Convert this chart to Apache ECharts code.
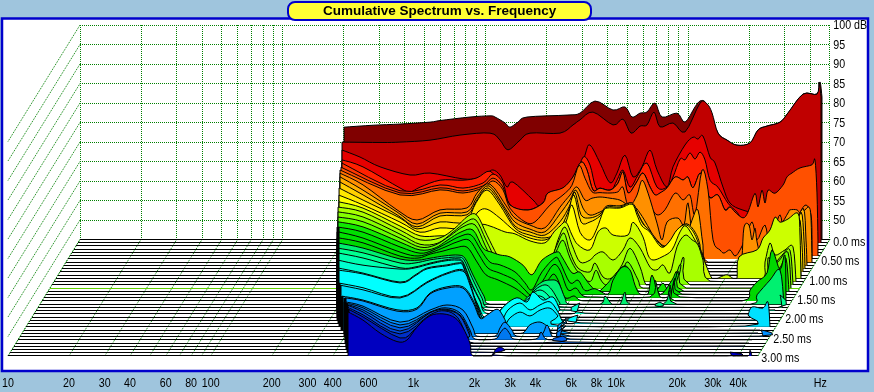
<!DOCTYPE html>
<html><head><meta charset="utf-8">
<style>html,body{margin:0;padding:0;background:#9FC5DD}#c{width:874px;height:392px}</style>
<script src="https://cdn.jsdelivr.net/npm/echarts@6/dist/echarts.min.js"></script>
</head><body><div id="c"></div>
<script>
// Frequency bins (Hz): each slice below is [bin, dB, bin, dB, ...]
const BIN_HZ=[200.7,212.4,224.8,238,251.9,266.6,282.2,298.7,316.1,334.6,354.1,374.8,396.7,419.9,444.4,470.4,497.9,527,557.8,590.4,624.9,661.2,699.9,740.8,784,829.9,878.4,929.7,984,1041.6,1102.4,1166.9,1235,1307.2,1383.6,1464.5,1550,1640.6,1736.5,1838,1945.4,2059,2179,2306,2441,2584,2735,2895,3064,3243,3433,3634,3846,4071,4309,4561,4827,5109,5408,5724,6058,6414,6789,7186,7606,8050,8520,9018,9545,10103,10693,11318,11979,12679,13420,14204,15034,15912,16842,17826,18868,19971,21138,22373,23680,25064,26528,28078,29719,31455,33293,35238,37297,39476,41783,44224,46808,49543];
const SLICE_MS=[0,0.083,0.167,0.25,0.333,0.417,0.5,0.583,0.667,0.75,0.833,0.917,1,1.083,1.167,1.25,1.333,1.417,1.5,1.583,1.667,1.75,1.833,1.917,2,2.083,2.167,2.25,2.333,2.417,2.5,2.583,2.667,2.75,2.833,2.917,3];
const SLICE_COLORS=['#800000','#C00000','#E60000','#FF2000','#FF3800','#FF5000','#FF7000','#FF9000','#FFB000','#FFD000','#FFE800','#FFFF00','#CCFF00','#A8FF00','#84FF00','#60FF00','#10E800','#00E000','#00E000','#00D800','#00F070','#00FF90','#00FFB0','#00FFD0','#00FFE8','#00FFFF','#00F8FF','#00E0FF','#00C0FF','#00A0FF','#0090FF','#0078F0','#0060E8','#0048D8','#0030C8','#0018C0','#0000C0'];
const S00=[0,73.8,5.8,74.3,11.2,74.6,17.2,75.1,19.2,75.5,25.2,76.4,29.2,76.7,30.2,76.4,32.2,74.9,33.2,73.8,34.8,75.1,36.6,76.4,44.6,76.9,47.2,77.4,50.2,80.5,53.8,78.2,56.2,79,57.6,76.4,59.2,77.4,60.6,77.7,62.2,80,63.6,76.4,66.6,77.4,68.2,75.1,70.2,79,71.2,80.5,72.2,80.3,73.2,77.7,74.8,72.3,76.6,70.5,78.6,69.2,81.2,69.7,82.8,73.1,84.6,74.1,87.2,75.1,88.8,77.4,91.8,82.3,94.6,82.3,95.2,85.4,95.6,81.5];
const S01=[0,70.8,8,70.7,11.6,70.8,17.6,71.3,23.6,72.6,29.6,73.1,31.6,71.3,33.2,68.8,35.6,71.3,37.6,73.1,43.6,73.1,46.2,75.2,47.6,76.5,50.2,78.5,54.2,75.2,56.2,76.7,57.8,73.1,59.6,74.9,61,75.2,62.4,78.5,63.6,74.7,66.2,75.7,68.6,73.4,71.6,80.8,73,80.6,74,78.3,75.2,73.1,77,71.3,79,70,81.6,70.6,83.2,73.9,85,74.9,87.6,75.9,89.2,78.3,92.2,83.1,95,83.1,95.4,86.2,95.8,82.4];
const S02=[0.4,69.6,4,67.8,8,65.3,14,63.2,18,63.7,24.6,62.2,27.4,62.4,29.4,63.7,30.6,64.5,32,63.2,33.4,60.1,34.6,61.4,38.6,56.8,40,55,44,52.9,47,59.3,49,68.3,50,70.9,52,66.3,54,61.2,55.4,63.7,57,68.3,58.6,62.7,60.4,65.3,62,69.6,63.4,64.5,65.4,60.1,66.6,65.3,69,70.9,70.6,72.9,71.6,72.4,72.6,73.2,74,67.8,75,66.3,76.6,60.1,78,56,80.6,54.2,85,53,92,53,94.8,56.8];
const S03=[0.8,67.9,5,66.1,12.4,60.7,14.4,59.7,16.4,60.9,20.4,62.7,25,62.7,27.8,63.3,30.4,65,32.4,61.5,34.4,56.3,37.4,53.8,40.4,53.8,44.4,56.3,47.4,62.7,49,68.6,50.4,66.6,51.8,60.2,54.4,59.7,55.8,62.7,57,65.3,58.4,60.9,60,64,61.8,67.1,63.8,60.9,65.8,60.9,67,63.5,68.4,68.1,69.4,67.9,70.4,69.7,71.4,68.1,72.4,69.9,73.4,67.9,74.4,62.7,76,60.9,78,56.8,79.8,54.5,81.4,52,84.4,53.8,88.4,57.6,94.4,58.9];
const S04=[1.2,67.9,12.8,60.8,20.8,62.3,25.4,61.5,29.4,62.8,31.4,65.1,33.4,62.8,34.8,57.2,38.4,55.9,41.4,57.7,42.4,60.2,45.4,61.5,47.4,64.3,49,68.2,50.2,66.1,51.4,61,52.8,61.5,54.8,61,56.4,62.8,57.4,65.6,58.4,60.2,60,62.8,61.4,65.4,62.8,61.8,63.8,59.7,64.8,60.2,66.2,61.5,67.8,64.3,69.4,63.6,70.4,64.3,71.4,61.5,72.8,65.4,73.8,62.3,74.8,59,76.4,59.7,77.8,55.9,78.8,56.6,80.8,53.3,82.8,53,84.2,57,85.4,56,86.2,58,88.2,57,90.2,62,91.2,63,91.8,62,92.4,63,95.4,66,95.6,67,96,60];
const S05=[1.4,67.7,13.2,61.1,21.2,62.4,25.8,61.6,29.8,62.9,31.8,64.9,33.8,62.6,35.2,58,38.8,56.7,41.8,58.5,42.8,61.1,45.8,62.4,47.8,65.2,49.4,69,50.6,67,51.8,61.8,53.2,62.3,55.2,61.8,56.8,63.6,57.8,66.5,58.8,61.1,60.4,63.6,61.8,66.2,63.2,62.6,64.2,60.6,65.2,61.1,66.6,62.4,68.2,65.2,69.8,64.4,70.8,65.2,71.8,62.4,73.2,66.2,74.2,63.1,75.2,59.8,76.8,60.6,78.2,56.7,79.2,57.5,80.2,56.2,81.8,54.7,82.8,56.2,84.2,61,84.8,57.5,85.6,61.8,86.2,58.5,86.8,61.8,88.2,61,89.8,63.1,90.6,65.2,91.6,66.2,93.2,67.5,95.6,68.3,96.2,69.5,96.6,61.1,96.8,49];
const S06=[1.6,67.8,13.6,61.4,21.6,62.7,26.2,61.9,30.2,63.2,32.2,65,34.2,62.7,35.6,58,38.6,54.5,40.6,54.5,43.6,58.8,46.2,61.4,48,63.9,49.4,69,50.6,65.7,52,62.2,53.6,62,55.6,61.9,57.2,62.2,58.2,63.4,59.2,58.8,61,60.1,62.2,62.7,63.6,58.8,65,56.3,66.6,57.6,68.6,61.9,70.2,60.1,71.6,61.4,72.6,56.3,74,67.8,75.2,62.7,76.2,49.9,77.6,47.3,78.4,46.5,79.6,47.3,80.8,45.8,82.6,49.9,84,54.5,85,49.9,86.6,53.7,87.6,47.8,88.6,52.4,89.6,56.3,90.6,51.9,92.6,54.5,94.6,58.8,95.8,56.3,96,50];
const S07=[2,67.8,6.6,64.8,13.4,58.4,17.4,55.8,22,58.4,27.4,58.9,29.4,62.7,32,65,35.4,59.1,37,56.3,40,54.5,43,53.8,46,59.1,48,62.2,49.4,64.3,51,60.9,52.4,61.4,54,61.7,56,61.4,58,60.9,60,59.6,61.4,62.2,62.4,66,63.6,62.7,65.4,55,66.4,50.7,67.4,55.3,69.6,56.3,70.8,54.5,71.6,60.2,72.6,50.7,73.4,58.4,74.4,49.4,75.6,45,82,45,82.4,46.3,82.8,54,83.8,54.5,84.4,50.7,85,53.7,85.4,50.2,86.4,46,88,49,88.6,55.3,90,54.5,91.6,57.6,92,58.4,93.4,58.4,94,57.6,95,58.4,95.8,59.1,96.2,56.3,96.4,45];
const S08=[2.4,67.7,7,64.3,13.8,58.7,17.8,55.6,22.4,58.4,27.8,58.7,29.8,62.5,32.2,65.4,35.4,59.7,37.4,56.1,40.4,54.3,43.4,53.6,46.4,58.2,48.4,61.8,49.6,64.3,51,59.7,52.4,57.9,54.4,58.7,56.4,60,58.4,60,60.8,60.5,62.4,58.4,64.4,54.1,66.4,49.5,68.4,50.2,70,52.8,71.4,51.5,72.8,56.6,74,59.2,75,50.2,76,45,86.8,45,90,50,92.4,52,95,59.7,95.6,51.5,95.8,45];
const S09=[2.8,67.2,7.4,63.9,14.2,58.8,18.2,55.7,22.8,58.5,28.2,58.8,30.2,62.6,32.4,65.7,35.4,60.8,37.8,55.9,40.8,54.4,43.8,53.6,46.8,57,48.8,61.3,49.8,64.6,51,58.8,52.8,58,54.8,59,56.2,61.1,58.8,61.1,61.2,61.8,62.4,59,63.8,55.9,65.8,52.9,67.6,50.8,69.2,51.8,70.8,54.9,72.2,56.4,73.4,54.4,74.4,52.3,75.4,46.7,76,45,88.8,45,91.6,50.3,93.2,52,95,59.5,95.6,52.3,95.8,45];
const S10=[3,66.5,7.8,63.4,15.2,58.8,18.6,56,23.2,57.8,28.2,57.8,30.4,62.7,32.6,66,35.2,62.1,38.2,56.2,41.2,54.4,44.2,53.7,46.8,55.2,48.8,60.3,50,64.7,51.4,57.8,53.2,57.8,55.2,59.3,56.6,61.6,59.2,61.6,61.6,62.7,62.8,59.8,63.8,57.3,65.2,55.5,67.6,51.6,69.2,52.9,70.8,56,72.6,57.3,74.2,55.2,75.2,51.9,76.4,45,90.8,45,93.2,52,95,58.8,95.6,51.9,95.8,45];
const S11=[3.4,65.5,8.2,63,15.6,58.6,19.6,56,23.6,57.1,28.6,57.1,31.2,61.2,33,61.9,35.6,59.6,38.6,56.3,41.6,54.5,44.6,54,46.8,55.8,48.8,58.6,50,63,51.6,56,53.6,54,55,57,56.2,61.2,57,62.2,59.6,62.2,62,63.2,63,60.4,64,57.6,65.6,56,67.8,52.2,69.4,53.5,71,56.6,72.8,57.9,74.4,55.8,75.6,52,76.6,48.4,77.2,45,92.6,45,94,52,95,58.6,95.6,51.4,95.8,45];
const S12=[3.8,64.6,8.6,63,16,58.4,20,55.9,24,55.9,29,56.1,32,58.7,34,58.4,37,56.9,39,56.4,42,54.6,45,54.1,46.8,56.9,48,58.4,49.2,59.4,50.4,56.1,51.6,53.6,54,52.3,55.6,56.9,57.2,57.9,58.6,56.1,61.6,56.1,62.6,59.4,64.6,55.6,65.6,51,66.6,49.7,68.4,50.5,70.4,52.3,72,56.9,73.2,58.4,75,54.8,76,52.3,77.2,48.4,78.4,45,79.4,45,80,45.3,81.4,45.9,82.6,45,83.4,45,83.8,50.5,87.4,52.3,88.6,55.3,90,57.4,91,60.7,92,59.4,93.6,60.2,95.6,61.7,96,56.1,96.2,45];
const S13=[4,64.1,9,62.8,16.4,58.2,20.4,55.7,24.4,56.2,27.4,58.7,30,61.8,31.8,62,33.8,56.9,35.8,51.8,37.4,48.5,40.4,46.7,44.4,46.7,46.8,51,48,55.7,49.4,59,50.8,54.4,52.4,50,54.4,50.5,55.4,51.8,57,52.6,59,50.5,61,53.1,62.4,56.2,64.4,53.6,66.4,48.7,67.8,48,69,49.3,70.4,47.2,71.8,53.9,73.4,56.9,74.8,55.7,76,54.4,77,50.5,78.4,45.1,88.4,45,89.4,50,90.4,54.9,91.4,51.8,93.4,53.1,95,53.9,95.6,45.1];
const S14=[4.4,63.7,9.4,62.4,16.8,58,20.8,55.4,24.4,55.7,27.4,58.5,30,61.1,32,61.6,34,56.5,36,51.4,37.8,48.3,40.8,46.2,44.8,46.2,46.8,50.8,48.2,55.2,49.6,58.3,50.8,53.4,52.4,49.3,54.8,48.3,55.8,50.6,57.4,47,59.2,46.8,61.2,50.1,62.8,54.4,64.8,49.6,65.8,45.5,66.8,45,71.2,45.2,72.8,49.8,73.6,51.9,74.8,45,88.8,45,90.4,51.9,91.4,50.1,93.2,52.6,94.8,53.9,95.4,45.2];
const S15=[4.8,63.2,9.8,62,17.2,57.8,21.2,55.5,24.2,56,27.2,58.4,29.8,60.7,32.2,61.2,34.2,56,36.2,50.9,38.2,47.6,41.2,45.8,45.2,45.8,47.2,50.9,48.4,54.2,49.8,57.3,51.2,52.7,52.8,49.1,55.2,46.6,56.4,49.6,57.6,46.6,59.6,45.3,61.6,49.1,62.8,51.7,64.8,47.1,65.8,45,71.4,45,72.6,49.1,73.4,50.9,74.4,45,89.8,45,91.2,50.9,92.8,51.7,94.8,54.2,95.4,45];
const S16=[5.2,62.8,10.2,61.5,17.6,57.6,21.6,55.6,24.6,56.1,27.2,58.2,29.8,60.2,32.2,60.7,34.2,56.1,36,55,37.6,54.3,39.6,53.8,42.2,51.7,44,49.2,46,53,49,55.1,50,53.8,52,49.7,53.6,49.9,55.6,46.6,57.2,45,58.8,46.6,60.2,48.7,62,51.2,63.2,51,64.6,46.1,65.6,45,68.6,45,70.2,47.1,71.4,45,72.6,48.4,73.4,49.9,74.4,45,90.8,45,92.2,49.9,93.6,51,94.8,53.5,95.4,45];
const S17=[5.6,62.3,10.6,61,18,57.2,22,55.6,24.6,56.4,27.4,58.2,29.8,59.8,32.2,60.3,34.2,56.4,36,53.3,38,52.6,41,50.8,43,48,44.4,46.2,46.4,50.8,49,54.4,50,53.3,52,48,53.6,48.7,55,46,57,46.5,59.6,45.1,60.6,48.7,62.4,52,64,51.3,65,47.4,66,45.1,67.6,45.1,68.4,50,70,45,72.4,48.7,73.4,50.8,74.4,45.1,91.6,45.1,93,48.7,94.4,50.8,95.2,45.1];
const S18=[6,61.9,11,60.3,18.4,56.7,22,55.7,24.8,56.7,27.4,58,29.8,59.3,32.2,59.8,34.2,56,36,52.6,38.4,51.3,41.4,49.5,43.4,47,44.8,45.7,46.8,49,49,53.4,50.4,52.1,52,47,53.6,47.5,55,45.5,57.8,45.2,68.4,45.2,69.4,49.5,70.4,45.2,72.4,45.7,73.4,50,74.4,45.2,90.4,45.2,92.4,48.3,94,50.8,95,45.2];
const S19=[6.4,61.2,11.4,59.9,18.8,56.5,22.4,56,24.8,57,27.4,57.8,29.8,58.6,32.2,58.8,34.2,55,36,51.7,38.4,50.4,41.8,48.3,44.2,46,45.2,45.2,46.8,46.5,49.2,51.7,50.4,50.4,51.8,45.8,53.6,46.3,54.8,45.2,57.6,45,71.8,45,72.8,49.1,73.8,45,87.2,45,88.8,47.8,90.2,49.9,92.2,52.2,93.2,58.1,94.8,53,95.8,56.8,96,45];
const S20=[6.8,60.7,11.8,59.4,19.2,56.6,22.8,56.3,25.2,56.8,28.2,57.4,30.8,57.6,32.2,56.8,33.8,52.5,36,47.1,37.2,45,44.6,45,45.8,48.6,47.6,50.7,49.2,51.2,50.8,50.7,52.2,46.6,53.2,45,59.2,45,60.2,47.1,61.6,45,63.2,45,64.2,48.1,65.2,45,71.8,45,73.2,48.6,74.6,45,89.2,45,90.6,47.4,93.2,51.2,95.2,53.8,96,45];
const S21=[7.2,60.2,12.2,59,19.6,56.4,22.6,56.4,25.6,57.2,28.6,57.7,31.2,57.9,32.4,57.2,34,52.6,36,47.4,37.2,45.1,44,45.1,45.2,46.9,46.6,49.5,48.6,50.8,50,49.5,51.6,46.1,52.6,45.1,70.8,45.1,71.6,46.4,72.4,45.1,95.2,45,95.6,48.2,96,45.1];
const S22=[7.6,59.8,12.6,58.5,20,56,23,56.2,26,57.2,29,58,31.4,58.3,32.6,57.5,34.2,52.4,36,47.7,37.2,45.2,43,45.2,44,46.5,46,49,48,50.3,49.6,49,51,46.5,52.4,45.2,80,45,95,45.2];
const S23=[8,58.8,13,57.5,20.4,56.5,23.4,56.8,26.4,57.8,29.4,58.6,31.8,58.8,33,58.1,34.6,52.9,36.4,48.3,37.6,45.2,42.4,45.2,44.4,47.3,46.4,49.1,48.4,49.6,50,48.1,51.6,45.2,55.4,45.2,56.4,47.8,57.4,45.2,94.4,45];
const S24=[8.4,57.6,13.4,56.3,20.8,54,23.8,55.8,26.2,57.6,30.2,58.4,32.4,58.9,33.4,58.4,34.8,52.7,36.4,48.1,37.6,45,39.2,45,41.8,47.9,43.2,48.6,45.8,47.6,47.8,49.4,49.8,48.6,51.2,46.8,52.4,45,94.4,45];
const S25=[8.8,57.9,13.8,56.9,21.2,54.6,24.2,56.4,26.6,58.2,30.6,59,32.8,59.5,33.8,59,35.2,53.3,36.8,48.7,37.8,45.1,39.6,45.1,42.2,48.9,44.6,50.8,46.6,49.7,47.8,52.3,49.8,50.2,51.8,51,53.2,47.7,54.2,45.1,94.4,45.1];
const S26=[9.4,55.4,14.2,54.2,21.6,51.8,27,55.7,31,58,34.2,58.8,35.6,55.4,37.2,49,38.8,45.2,41.6,45.2,43.2,48.5,45.6,50.3,47.6,48.5,49.6,49.8,51.6,50.6,53.2,48,54.4,45.2,56.6,45.2,57.2,47.2,57.8,45.2,94.4,45];
const S27=[10,55.7,14.6,54.5,22,52.4,27.4,56.3,31.4,58.6,34.6,59.3,36,55.7,37.6,49.3,39,45.2,42.6,45.2,44,47.3,46,48.8,48,47.8,50,49.3,52,49.8,53.6,47.8,55,45.2,91,45.2,91.6,48,92.4,50.1,94.6,49.8,95.6,51.4,96,45.2];
const S28=[10.8,53.7,15,52.7,21.8,50.2,25.8,50.7,28.4,54.5,31.8,56.1,35,56.1,37,52.7,38.4,48.1,39.6,45,94.4,45];
const S29=[11.8,54.1,15.4,53.3,22.2,50.7,26.2,51.2,28.8,55.1,32.2,56.6,35.4,56.6,37.4,53,38.8,48.9,40.2,49.7,42.2,51.2,43.4,49.5,45.2,45.1,47.4,45.1,48.8,47.2,50.8,47.9,52.4,46.6,53.2,45.1,54.2,45.1,55.4,47.9,56.4,49,57,45.1,94.4,45.1];
const S30=[12.2,53.9,15.8,52.8,23.2,48.7,29.2,51.8,32.6,53.1,35.8,51.8,37.8,47.2,38.6,45.1,42.2,45.1,43.2,47.2,44.2,48.7,45.6,46.7,46.6,45.1,51.2,45.1,52.6,48,53.6,45.1,54.8,45.1,55.8,48,56.6,48.7,57.4,45.1,95,45.1,95.4,46.7,95.8,45.1];
const S31=[12.8,54.4,16.2,53.2,23.6,48.8,29.6,52.1,32.6,53.2,35.6,51.9,37.6,47.5,38.6,45.2,42.6,45.2,43.6,46.7,44.6,48,45.6,46.5,46.4,45.2,50.8,45.2,51.8,47,52.8,45.2,55.2,45.2,56,47.5,56.8,48.5,57.6,45.2,94,45];
const S32=[13.2,55,16.6,53.5,24,48.9,30,52.7,33,53.7,36,52.2,38,47.6,38.8,45,56,45.3,56.6,46.8,57.2,45.3,93.8,45];
const S33=[13.8,55.6,17,53.8,24.4,48.9,30.4,53.6,33.4,54.3,36.4,52.8,38.4,47.6,39,45.1,93.4,45.1];
const S34=[14.2,55.9,17.4,53.9,24.8,49,30.8,53.9,33.8,54.9,36.4,53.1,38.4,47.4,39.2,45.1,93.2,45];
const S35=[14.8,56.2,17.8,54.2,25.2,48.8,28.2,51.1,30.2,53.2,32.2,54.7,34.2,54.4,36.2,53.4,37.8,49.6,39.2,45.2,93,45];
const S36=[15.2,56.3,18.2,54.2,21.6,50.9,25,48.7,27,49.1,29,52.4,31.6,55.3,34.2,55.8,36.6,54.8,38.2,52.2,39.6,48.3,40.2,45,44,45,44.6,46.5,45.6,47.3,46.6,46.5,47.2,45,91,45,91.6,46,92.2,45,95.2,45,95.6,46.5,96,45];
const SLICES=[S00,S01,S02,S03,S04,S05,S06,S07,S08,S09,S10,S11,S12,S13,S14,S15,S16,S17,S18,S19,S20,S21,S22,S23,S24,S25,S26,S27,S28,S29,S30,S31,S32,S33,S34,S35,S36];

const GRID_HZ=[10,20,30,40,50,60,70,80,90,100,200,300,400,500,600,700,800,900,1000,2000,3000,4000,5000,6000,7000,8000,9000,10000,20000,30000,40000,50000];
const DB_TICKS=[100,95,90,85,80,75,70,65,60,55,50];
const DB_LABELS=['100 dB','95','90','85','80','75','70','65','60','55','50'];
const FREQ_TICKS=[10,20,30,40,60,80,100,200,300,400,600,1000,2000,3000,4000,6000,8000,10000,20000,30000,40000];
const FREQ_LABELS=['10','20','30','40','60','80','100','200','300','400','600','1k','2k','3k','4k','6k','8k','10k','20k','30k','40k'];
const TIME_TICKS=[0,0.5,1,1.5,2,2.5,3];
const TIME_LABELS=['0.0 ms','0.50 ms','1.00 ms','1.50 ms','2.00 ms','2.50 ms','3.00 ms'];

const SKEW_X=-24, SKEW_Y=38.83; // pixels of floor depth per millisecond
const FONT='13.5px "Liberation Sans",sans-serif';
const NARROW=0.79;
const GREEN='#008000';
const chart=echarts.init(document.getElementById('c'),null,{renderer:'canvas'});

function project(api,hz,db,ms){
  const p=api.coord([hz,db]);
  return [p[0]+SKEW_X*ms,p[1]+SKEW_Y*ms];
}
function binHz(k){
  const a=Math.floor(k),b=Math.min(a+1,BIN_HZ.length-1),f=k-a;
  return BIN_HZ[a]*Math.pow(BIN_HZ[b]/BIN_HZ[a],f);
}
function dotted(a,b){
  return {type:'line',shape:{x1:a[0],y1:a[1],x2:b[0],y2:b[1]},
    style:{stroke:GREEN,lineWidth:1,lineDash:[1,1]},silent:true};
}
const vSnap=p=>[Math.floor(p[0])+0.5,Math.round(p[1])];
const hSnap=p=>[Math.round(p[0]),Math.floor(p[1])+0.5];
function spline(pts,base){
  const out=[];
  for(let i=0;i<pts.length-1;i++){
    const p0=pts[Math.max(i-1,0)],p1=pts[i],p2=pts[i+1],p3=pts[Math.min(i+2,pts.length-1)];
    for(let s=0;s<4;s++){
      const t=s/4,t2=t*t,t3=t2*t,c=0.5;
      const f=d=>p1[d]+c*(p2[d]-p0[d])*t+(3*(p2[d]-p1[d])-2*c*(p2[d]-p0[d])-c*(p3[d]-p1[d]))*t2+(-2*(p2[d]-p1[d])+c*(p2[d]-p0[d])+c*(p3[d]-p1[d]))*t3;
      out.push([f(0),Math.min(f(1),base)]);
    }
  }
  out.push(pts[pts.length-1]);
  return out;
}
function renderVertical(params,api){
  const hz=api.value(0);
  const top=project(api,hz,100,0),bot=project(api,hz,45,0),front=project(api,hz,45,3);
  return {type:'group',children:[dotted(vSnap(top),vSnap(bot)),dotted(bot,front)]};
}
function renderHorizontal(params,api){
  const db=api.value(1);
  const a=project(api,10,db,0),b=project(api,50000,db,0),c=project(api,10,db,3);
  return {type:'group',children:[dotted(hSnap(a),hSnap(b)),dotted(a,c)]};
}
function renderEdges(params,api){
  const bl=project(api,10,45,3),br=project(api,50000,45,3),tl=project(api,10,45,0),tr=project(api,50000,45,0);
  return {type:'group',children:[dotted(hSnap(bl),hSnap(br)),dotted(tl,bl),dotted(tr,br)]};
}
function renderSlice(params,api){
  const i=params.dataIndex,ms=SLICE_MS[i],vals=SLICES[i];
  const L=project(api,10,45,ms),R=project(api,50000,45,ms);
  const base=L[1];
  const raw=[];
  for(let j=0;j<vals.length;j+=2) raw.push(project(api,binHz(vals[j]),Math.max(vals[j+1],45),ms));
  const curve=spline(raw,base);
  const start=[raw[0][0],base],end=[raw[raw.length-1][0],base];
  const outline=[start].concat(curve,[end]);
  const floorColor=i===15?'#60D000':'#000';
  const by=Math.floor(base)+0.5;
  const kids=[
    {type:'line',z2:i*4,silent:true,shape:{x1:L[0],y1:by,x2:R[0],y2:by},style:{stroke:floorColor,lineWidth:1.2}},
    {type:'polygon',z2:i*4+1,silent:true,shape:{points:outline},style:{fill:SLICE_COLORS[i],stroke:null}},
    {type:'polyline',z2:i*4+2,silent:true,shape:{points:outline},style:{stroke:'#000',lineWidth:1,fill:null}}
  ];
  if(i>=17&&i<36) kids.push({type:'line',z2:i*4+3,silent:true,shape:{x1:start[0],y1:base,x2:raw[0][0],y2:raw[0][1]},style:{stroke:'#000',lineWidth:3}});
  return {type:'group',children:kids};
}
const text=(x,y,str,align)=>({type:'text',x,y,scaleX:NARROW,silent:true,style:{text:str,fill:'#000',font:FONT,align,verticalAlign:'middle'}});
function renderFreqLabel(params,api){
  const p=project(api,api.value(0),45,3);
  return text(p[0],p[1]+27,FREQ_LABELS[params.dataIndex],'center');
}
function renderTimeLabel(params,api){
  const p=project(api,50000,45,TIME_TICKS[params.dataIndex]);
  return text(p[0]+3.5,p[1]+2.5,TIME_LABELS[params.dataIndex],'left');
}
function renderDbLabel(params,api){
  const p=project(api,50000,api.value(1),0);
  return text(p[0]+3.5,p[1]+0.5,DB_LABELS[params.dataIndex],'left');
}
function renderUnit(params,api){
  const p=project(api,50000,45,3);
  return text(p[0]+62.5,p[1]+27,'Hz','center');
}
const custom=(name,data,renderItem,z)=>({type:'custom',name,data,renderItem,clip:false,silent:true,animation:false,z,encode:{x:0,y:1},progressive:0});

chart.setOption({
  animation:false,
  backgroundColor:'#9FC5DD',
  title:{text:'Cumulative Spectrum vs. Frequency',left:288,top:2,padding:[3,35,2,35],
    backgroundColor:'#FFFF33',borderColor:'#0000CC',borderWidth:2,borderRadius:7,
    textStyle:{color:'#000',fontSize:13.5,fontWeight:'bold',fontFamily:'"Liberation Sans",sans-serif',lineHeight:13}},
  graphic:[{type:'rect',z:-1,silent:true,shape:{x:2,y:18.5,width:866,height:352.5},style:{fill:'#fff',stroke:'#0000CC',lineWidth:2.5}}],
  grid:{left:80,top:25,width:749.8,height:214.5,containLabel:false},
  xAxis:{type:'log',logBase:10,min:10,max:50000,show:false},
  yAxis:{type:'value',min:45,max:100,interval:5,position:'right',
    axisLine:{show:false},axisTick:{show:false},splitLine:{show:false},axisLabel:{show:false}},
  series:[
    custom('freq grid',GRID_HZ.map(h=>[h,45]),renderVertical,1),
    custom('level grid',DB_TICKS.map(d=>[10,d]),renderHorizontal,1),
    custom('edges',[[10,45]],renderEdges,1),
    custom('slices',SLICE_MS.map(()=>[10,45]),renderSlice,3),
    custom('freq labels',FREQ_TICKS.map(h=>[h,45]),renderFreqLabel,4),
    custom('time labels',TIME_TICKS.map(()=>[50000,45]),renderTimeLabel,4),
    custom('level labels',DB_TICKS.map(d=>[50000,d]),renderDbLabel,4),
    custom('unit',[[50000,45]],renderUnit,4)
  ]
});
</script></body></html>
